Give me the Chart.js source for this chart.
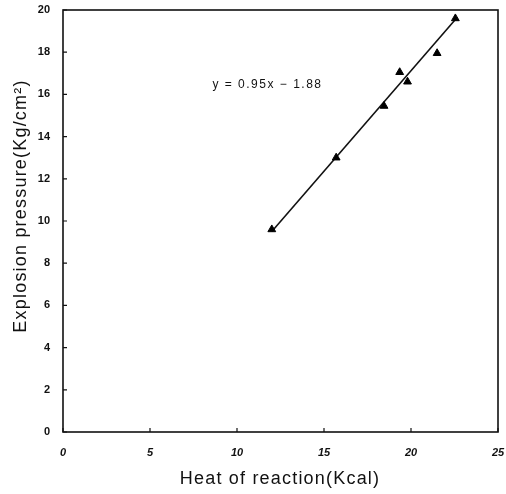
<!DOCTYPE html>
<html><head><meta charset="utf-8">
<script src="https://cdn.jsdelivr.net/npm/chart.js@4/dist/chart.umd.min.js"></script>
<style>html,body{margin:0;padding:0;background:#fff;}#wrap{width:506px;height:494px;}</style>
</head><body><div id="wrap"><canvas id="c" width="506" height="494"></canvas></div>
<script>
const heatX = [12.0, 15.7, 18.45, 19.35, 19.8, 21.5, 22.55];
const pressureY = [9.6, 13.0, 15.45, 17.05, 16.6, 17.95, 19.6];
const fitX = [12.0, 22.6];
const fitY = [9.5, 19.6];
const xTicks = [0, 5, 10, 15, 20, 25];
const yTicks = [0, 2, 4, 6, 8, 10, 12, 14, 16, 18, 20];
const xTitle = 'Heat of reaction(Kcal)';
const yTitle = 'Explosion pressure(Kg/cm\u00B2)';
const equationText = 'y = 0.95x \u2212 1.88';
const equationPos = [11.75, 16.45];

const FONT = '"Liberation Sans", Arial, sans-serif';

const framePlugin = {
  id: 'frame',
  afterDatasetsDraw(chart) {
    const {ctx, chartArea: a, scales} = chart;
    ctx.save();
    ctx.strokeStyle = '#111';
    ctx.lineWidth = 1.6;
    ctx.strokeRect(a.left, a.top, a.right - a.left, a.bottom - a.top);
    ctx.lineWidth = 1.2;
    ctx.beginPath();
    scales.x.ticks.forEach(t => {
      const px = scales.x.getPixelForValue(t.value);
      ctx.moveTo(px, a.bottom); ctx.lineTo(px, a.bottom - 4);
    });
    scales.y.ticks.forEach(t => {
      const py = scales.y.getPixelForValue(t.value);
      ctx.moveTo(a.left, py); ctx.lineTo(a.left + 4, py);
    });
    ctx.stroke();
    ctx.fillStyle = '#111';
    ctx.letterSpacing = '1.5px';
    ctx.font = '12px ' + FONT;
    ctx.textAlign = 'center';
    ctx.textBaseline = 'middle';
    ctx.fillText(equationText, scales.x.getPixelForValue(equationPos[0]), scales.y.getPixelForValue(equationPos[1]));
    // axis titles
    ctx.letterSpacing = '1.2px';
    ctx.font = '18px ' + FONT;
    ctx.fillText(xTitle, 280, 479);
    ctx.translate(21, 206);
    ctx.rotate(-Math.PI / 2);
    ctx.fillText(yTitle, 0, 0);
    ctx.restore();
  }
};

new Chart(document.getElementById('c'), {
  type: 'scatter',
  data: {
    datasets: [
      {
        data: heatX.map((x, i) => ({x, y: pressureY[i]})),
        pointStyle: 'triangle',
        pointRadius: 4.5,
        backgroundColor: '#000',
        borderColor: '#000',
        borderWidth: 1,
        showLine: false
      },
      {
        data: fitX.map((x, i) => ({x, y: fitY[i]})),
        showLine: true,
        borderColor: '#111',
        borderWidth: 1.6,
        pointRadius: 0,
        fill: false
      }
    ]
  },
  options: {
    responsive: false,
    animation: false,
    events: [],
    layout: {padding: {top: 10, right: 8, left: 0, bottom: 0}},
    plugins: {legend: {display: false}, tooltip: {enabled: false}},
    scales: {
      x: {
        type: 'linear', min: 0, max: 25,
        afterBuildTicks: s => { s.ticks = xTicks.map(v => ({value: v})); },
        afterFit: s => { s.height = 62; s.paddingLeft = 0; s.paddingRight = 0; },
        grid: {display: false, drawTicks: false},
        border: {display: false},
        ticks: {
          padding: 14, color: '#111', maxRotation: 0,
          font: {family: FONT, size: 11, style: 'italic', weight: 'bold'}
        },
        title: {display: false}
      },
      y: {
        type: 'linear', min: 0, max: 20,
        afterBuildTicks: s => { s.ticks = yTicks.map(v => ({value: v})); },
        afterFit: s => { s.width = 63; s.paddingTop = 0; s.paddingBottom = 0; },
        grid: {display: false, drawTicks: false},
        border: {display: false},
        ticks: {
          padding: 13, color: '#111',
          font: {family: FONT, size: 11, weight: 'bold'}
        },
        title: {display: false}
      }
    }
  },
  plugins: [framePlugin]
});
</script></body></html>
